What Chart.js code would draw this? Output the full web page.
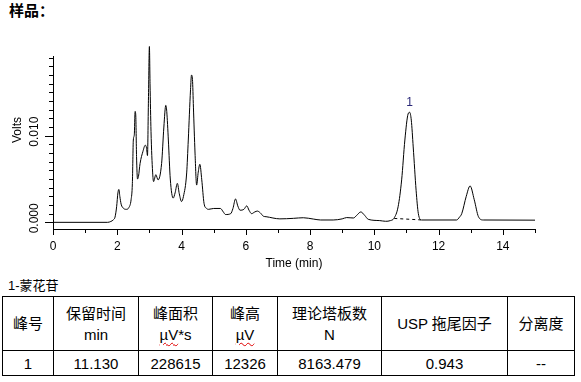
<!DOCTYPE html>
<html><head><meta charset="utf-8">
<script src="https://cdn.jsdelivr.net/npm/chart.js@4.4.1/dist/chart.umd.min.js"></script>
<style>
html,body{margin:0;padding:0;background:#fff;width:581px;height:382px;overflow:hidden;}
#title{position:absolute;left:9px;top:-1px;font:bold 15px "Noto Sans CJK SC",sans-serif;color:#000;}
#wrap{position:absolute;left:0;top:0;width:581px;height:275px;}
#cmp{position:absolute;left:8px;top:275px;font:13px "Liberation Sans","Noto Sans CJK SC",sans-serif;color:#000;}
table{position:absolute;left:2px;top:296px;border-collapse:collapse;table-layout:fixed;font:15px "Liberation Sans","Noto Sans CJK SC",sans-serif;color:#000;}
td{border:1.5px solid #000;text-align:center;vertical-align:middle;padding:0;line-height:21px;white-space:nowrap;color:#000;}
tr.h td{height:53px;}
tr.d td{height:24px;}
.u{display:inline-block;line-height:21px;color:#000;}
.sp{color:#000;text-decoration-line:underline;text-decoration-style:wavy;text-decoration-color:#e00000;text-decoration-thickness:1px;text-underline-offset:2px;}
</style></head>
<body>
<div id="title">样品：</div>
<div id="wrap"><canvas id="c" width="581" height="275"></canvas></div>
<div id="cmp"></div>
<table id="tbl"></table>
<script>
// ---- chromatogram data (time in min, signal in Volts) ----
const times = [0,1.7,1.8,1.88,1.93,1.98,2.02,2.05,2.08,2.12,2.2,2.28,2.36,2.43,2.47,2.5,2.53,2.555,2.575,2.6,2.63,2.66,2.71,2.8,2.87,2.91,2.94,2.97,3.0,3.02,3.05,3.1,3.13,3.2,3.27,3.38,3.45,3.51,3.54,3.59,3.65,3.74,3.8,3.87,3.93,4.0,4.06,4.16,4.21,4.28,4.31,4.34,4.37,4.42,4.47,4.52,4.57,4.63,4.7,4.78,4.84,5.0,5.21,5.3,5.37,5.53,5.6,5.68,5.75,5.82,5.94,6.03,6.1,6.18,6.28,6.36,6.45,6.55,6.63,7.06,7.48,7.79,8.1,8.33,8.72,9.0,9.14,9.35,9.45,9.58,9.7,9.81,10.17,10.35,10.5,10.61,10.74,10.85,10.95,11.05,11.1,11.15,11.21,11.3,11.37,11.47,12.56,12.65,12.72,12.86,12.98,13.11,13.24,13.39,15];
const volts = [0,0,0.0001,0.0003,0.0006,0.0018,0.0034,0.0038,0.0030,0.0021,0.0016,0.0015,0.0017,0.0026,0.0045,0.0095,0.0101,0.0128,0.0124,0.0076,0.0050,0.0053,0.0068,0.0082,0.0089,0.0086,0.0077,0.0141,0.0203,0.0160,0.0105,0.0058,0.0047,0.0055,0.0049,0.0068,0.0110,0.0135,0.0128,0.0095,0.0050,0.0028,0.0034,0.0045,0.0033,0.0024,0.0030,0.0057,0.0095,0.0153,0.0170,0.0165,0.0133,0.0080,0.0043,0.0058,0.0067,0.0049,0.0022,0.0016,0.0015,0.0016,0.0016,0.0012,0.0009,0.0010,0.0016,0.0027,0.0019,0.0014,0.0015,0.0019,0.0014,0.0010,0.0012,0.0013,0.0011,0.0007,0.00065,0.0004,0.00046,0.00053,0.00038,0.00027,0.00027,0.0004,0.00055,0.0005,0.0008,0.0012,0.0008,0.00035,0.0002,0.00012,0.0002,0.00046,0.0018,0.0049,0.0095,0.0125,0.0127,0.0118,0.0087,0.0037,0.0010,0.00027,0.00027,0.0006,0.0010,0.0030,0.0042,0.0026,0.00065,0.00027,0.00025];
// dashed integration baseline under peak 1
const baseTimes = [10.62, 11.45];
const baseVolts = [0.00045, 0.00028];
// peak annotation
const peakNames = ['1'];
const peakTimes = [11.13];
// y tick labels
const yLabelValues = [0.000, 0.010];
// table
const compoundName = '1-蒙花苷';
const headTop = ['峰号','保留时间','峰面积','峰高','理论塔板数','USP 拖尾因子','分离度'];
const headUnit = ['','min','µV*s','µV','N','',''];
const rowValues = ['1','11.130','228615','12326','8163.479','0.943','--'];
const colWidths = [51,85,74,65,104,126,67];

// ---- build table ----
document.getElementById('cmp').textContent = compoundName;
const tbl = document.getElementById('tbl');
let cg = '<colgroup>' + colWidths.map(w=>'<col style="width:'+w+'px">').join('') + '</colgroup>';
let h = '<tr class="h">' + headTop.map((t,i)=>{
  let u = headUnit[i];
  if (u.startsWith('µV')) u = '<span class="sp">µV</span>' + u.slice(2);
  return '<td>' + t + (u ? '<br><span class="u">' + u + '</span>' : '') + '</td>';
}).join('') + '</tr>';
let d = '<tr class="d">' + rowValues.map(v=>'<td>'+v+'</td>').join('') + '</tr>';
tbl.innerHTML = cg + h + d;

// ---- chart ----
Chart.defaults.font.family = "'Liberation Sans', Arial, sans-serif";
Chart.defaults.font.size = 12;
Chart.defaults.color = '#000';

const yTicks = [];
for (let i = 0; i <= 19; i++) yTicks.push(+(i*0.001).toFixed(3));

const decor = {
  id: 'decor',
  afterDraw(chart) {
    const {ctx, chartArea: a, scales: {x, y}} = chart;
    ctx.save();
    ctx.strokeStyle = '#000'; ctx.lineWidth = 1;
    ctx.beginPath();
    y.ticks.forEach(t => {
      const p = Math.round(y.getPixelForValue(t.value)) + 0.5;
      const major = yLabelValues.some(v => Math.abs(v - t.value) < 1e-9);
      ctx.moveTo(a.left - (major ? 8 : 4), p); ctx.lineTo(a.left, p);
    });
    x.ticks.forEach(t => {
      const p = Math.round(x.getPixelForValue(t.value)) + 0.5;
      const major = Math.round(t.value) % 2 === 0;
      ctx.moveTo(p, a.bottom); ctx.lineTo(p, a.bottom + (major ? 6 : 4));
    });
    ctx.stroke();
    ctx.fillStyle = '#000';
    ctx.font = "12px 'Liberation Sans', Arial, sans-serif";
    ctx.textAlign = 'center'; ctx.textBaseline = 'middle';
    yLabelValues.forEach(v => {
      const p = y.getPixelForValue(v);
      ctx.save(); ctx.translate(35, p - 4); ctx.rotate(-Math.PI / 2);
      ctx.fillText(v.toFixed(3), 0, 0); ctx.restore();
    });
    ctx.save(); ctx.translate(18, 130); ctx.rotate(-Math.PI / 2);
    ctx.fillText('Volts', 0, 0); ctx.restore();
    // peak label
    ctx.fillStyle = '#2b2878';
    ctx.textBaseline = 'bottom';
    peakTimes.forEach((pt, i) => {
      let best = 0;
      times.forEach((t, j) => { if (Math.abs(t - pt) < 0.3 && volts[j] > best) best = volts[j]; });
      ctx.fillText(peakNames[i], x.getPixelForValue(pt) - 1, y.getPixelForValue(best) - 4);
    });
    ctx.restore();
  }
};

new Chart(document.getElementById('c'), {
  type: 'line',
  data: {
    datasets: [
      { data: times.map((t, i) => ({x: t, y: volts[i]})), borderColor: '#000', borderWidth: 1,
        pointRadius: 0, cubicInterpolationMode: 'monotone', clip: false },
      { data: baseTimes.map((t, i) => ({x: t, y: baseVolts[i]})), borderColor: '#000', borderWidth: 1,
        borderDash: [3, 3], pointRadius: 0 }
    ]
  },
  options: {
    responsive: false, animation: false, devicePixelRatio: 1,
    layout: { padding: { top: 56, right: 46, left: 0, bottom: 0 } },
    plugins: { legend: { display: false }, tooltip: { enabled: false } },
    scales: {
      x: {
        type: 'linear', min: 0, max: 15,
        grid: { display: false, drawTicks: false },
        border: { display: true, color: '#000', width: 1 },
        ticks: { stepSize: 1, autoSkip: false, maxRotation: 0, padding: 10,
          callback: v => (v % 2 === 0 && v < 15) ? String(v) : '' },
        title: { display: true, text: 'Time (min)', padding: { top: 0, bottom: 4 } },
        afterFit: s => { s.height = 46; }
      },
      y: {
        min: -0.00077, max: 0.0192,
        grid: { display: false, drawTicks: false },
        border: { display: true, color: '#000', width: 1 },
        ticks: { display: false },
        afterBuildTicks: s => { s.ticks = yTicks.map(v => ({value: v})); },
        afterFit: s => { s.width = 53; }
      }
    }
  },
  plugins: [decor]
});
</script>
</body></html>
